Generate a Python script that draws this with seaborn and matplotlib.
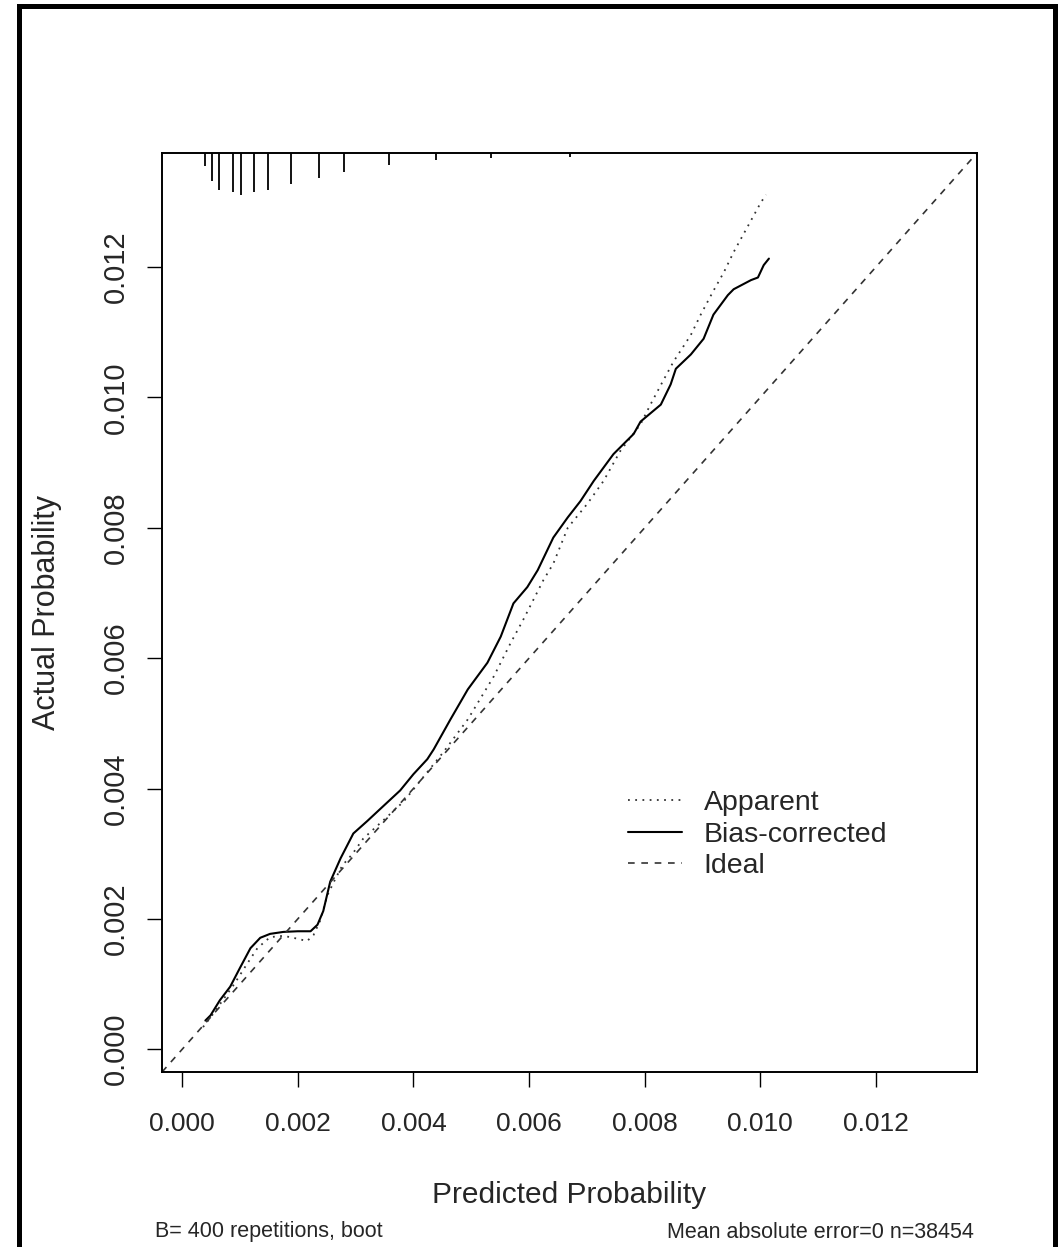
import numpy as np
import matplotlib
matplotlib.use("Agg")
import matplotlib.pyplot as plt
from matplotlib.patches import Rectangle
import matplotlib.transforms as mtransforms
import seaborn as sns

# calibration curves
bias_x = [0.00040, 0.00049, 0.00065, 0.00083, 0.00100, 0.00118, 0.00135, 0.00152, 0.00175,
          0.00200, 0.00222, 0.00234, 0.00244, 0.00256, 0.00274, 0.00296, 0.00320, 0.00343,
          0.00377, 0.00400, 0.00424, 0.00435, 0.00464, 0.00494, 0.00528, 0.00551, 0.00573,
          0.00597, 0.00615, 0.00642, 0.00667, 0.00689, 0.00712, 0.00746, 0.00781, 0.00793,
          0.00828, 0.00845, 0.00854, 0.00880, 0.00902, 0.00919, 0.00944, 0.00954, 0.00984,
          0.00996, 0.01006, 0.01015]
bias_y = [0.00044, 0.00052, 0.00075, 0.00096, 0.00125, 0.00155, 0.00171, 0.00177, 0.00180,
          0.00181, 0.00181, 0.00191, 0.00212, 0.00257, 0.00293, 0.00331, 0.00350, 0.00369,
          0.00397, 0.00422, 0.00445, 0.00460, 0.00506, 0.00552, 0.00593, 0.00633, 0.00684,
          0.00709, 0.00735, 0.00785, 0.00816, 0.00841, 0.00872, 0.00913, 0.00944, 0.00963,
          0.00989, 0.01020, 0.01044, 0.01066, 0.01090, 0.01127, 0.01157, 0.01166, 0.01180,
          0.01184, 0.01203, 0.01213]

app_x = [0.00036, 0.00050, 0.00070, 0.00090, 0.00110, 0.00130, 0.00152, 0.00175, 0.00192,
         0.00216, 0.00227, 0.00239, 0.00251, 0.00263, 0.00277, 0.00294, 0.00313, 0.00355,
         0.00383, 0.00412, 0.00452, 0.00494, 0.00539, 0.00568, 0.00590, 0.00625, 0.00642,
         0.00667, 0.00701, 0.00729, 0.00758, 0.00793, 0.00810, 0.00831, 0.00850, 0.00880,
         0.00897, 0.00918, 0.00937, 0.00954, 0.00980, 0.01001, 0.01010]
app_y = [0.00034, 0.00050, 0.00075, 0.00100, 0.00128, 0.00155, 0.00172, 0.00174, 0.00171,
         0.00166, 0.00175, 0.00198, 0.00236, 0.00258, 0.00282, 0.00299, 0.00323, 0.00357,
         0.00380, 0.00412, 0.00456, 0.00506, 0.00572, 0.00623, 0.00659, 0.00720, 0.00745,
         0.00800, 0.00837, 0.00872, 0.00918, 0.00959, 0.00989, 0.01024, 0.01055, 0.01096,
         0.01127, 0.01162, 0.01192, 0.01223, 0.01265, 0.01299, 0.01311]

ideal = [-0.00035, 0.01375]

# rug of predicted probabilities along the top (length as axes fraction)
rug_x = [0.00039, 0.00052, 0.00064, 0.00087, 0.00101, 0.00125, 0.00149, 0.00188,
         0.00237, 0.00280, 0.00357, 0.00439, 0.00535, 0.00670]
rug_len = [0.014, 0.030, 0.040, 0.042, 0.046, 0.042, 0.040, 0.034,
           0.027, 0.021, 0.013, 0.008, 0.005, 0.004]

ticks = [0.000, 0.002, 0.004, 0.006, 0.008, 0.010, 0.012]
tick_labels = ["0.000", "0.002", "0.004", "0.006", "0.008", "0.010", "0.012"]

sns.set_style("white")
plt.rcParams["font.family"] = ["Liberation Sans", "DejaVu Sans"]

fig = plt.figure(figsize=(10.63, 12.47), dpi=100)
ax = fig.add_axes([0.1524, 0.1403, 0.7667, 0.7370])

sns.lineplot(x=app_x, y=app_y, ax=ax, color="#333333", lw=1.3, linestyle=(0, (1, 3)),
             sort=False, estimator=None, label="Apparent")
sns.lineplot(x=bias_x, y=bias_y, ax=ax, color="black", lw=1.5,
             sort=False, estimator=None, label="Bias-corrected")
sns.lineplot(x=ideal, y=ideal, ax=ax, color="#333333", lw=1.2, linestyle=(0, (4, 4)),
             sort=False, estimator=None, label="Ideal")

trans = mtransforms.blended_transform_factory(ax.transData, ax.transAxes)
ax.vlines(rug_x, [1 - l for l in rug_len], 1, transform=trans, color="black", lw=1.3)

ax.set_xlim(ideal)
ax.set_ylim(ideal)
ax.set_xticks(ticks)
ax.set_xticklabels(tick_labels, fontsize=19)
ax.set_yticks(ticks)
ax.set_yticklabels(tick_labels, rotation=90, va="center", fontsize=21)

for s in ax.spines.values():
    s.set_color("black")
    s.set_linewidth(1.4)

ax.tick_params(axis="both", direction="out", length=11, width=1.0, color="black",
               bottom=True, left=True)
ax.tick_params(axis="x", pad=18)
ax.tick_params(axis="y", pad=12)

ax.set_xlabel("Predicted Probability", fontsize=21.5)
ax.set_ylabel("Actual Probability", fontsize=22)
ax.xaxis.label.set_va("center")
ax.yaxis.label.set_va("center")
ax.xaxis.set_label_coords(0.5, -0.134)
ax.yaxis.set_label_coords(-0.141, 0.5)

handles, labels = ax.get_legend_handles_labels()
ax.legend(handles, labels, loc="upper left", bbox_to_anchor=(0.5908, 0.3665),
          bbox_transform=fig.transFigure, frameon=False, fontsize=20.5,
          handlelength=1.9, handletextpad=0.75, labelspacing=0.2,
          borderpad=0, borderaxespad=0)

fig.text(155 / 1063, 1 - 1232 / 1247, "B= 400 repetitions, boot", fontsize=15.5,
         ha="left", va="center")
fig.text(974 / 1063, 1 - 1232 / 1247, "Mean absolute error=0 n=38454", fontsize=15.5,
         ha="right", va="center")

fig.add_artist(Rectangle((19 / 1063, -0.05), (1054.5 - 19) / 1063, 1.05 - 6.5 / 1247,
                         transform=fig.transFigure, fill=False, lw=3.6,
                         edgecolor="black", clip_on=False))

fig.savefig("out.png", dpi=100)
